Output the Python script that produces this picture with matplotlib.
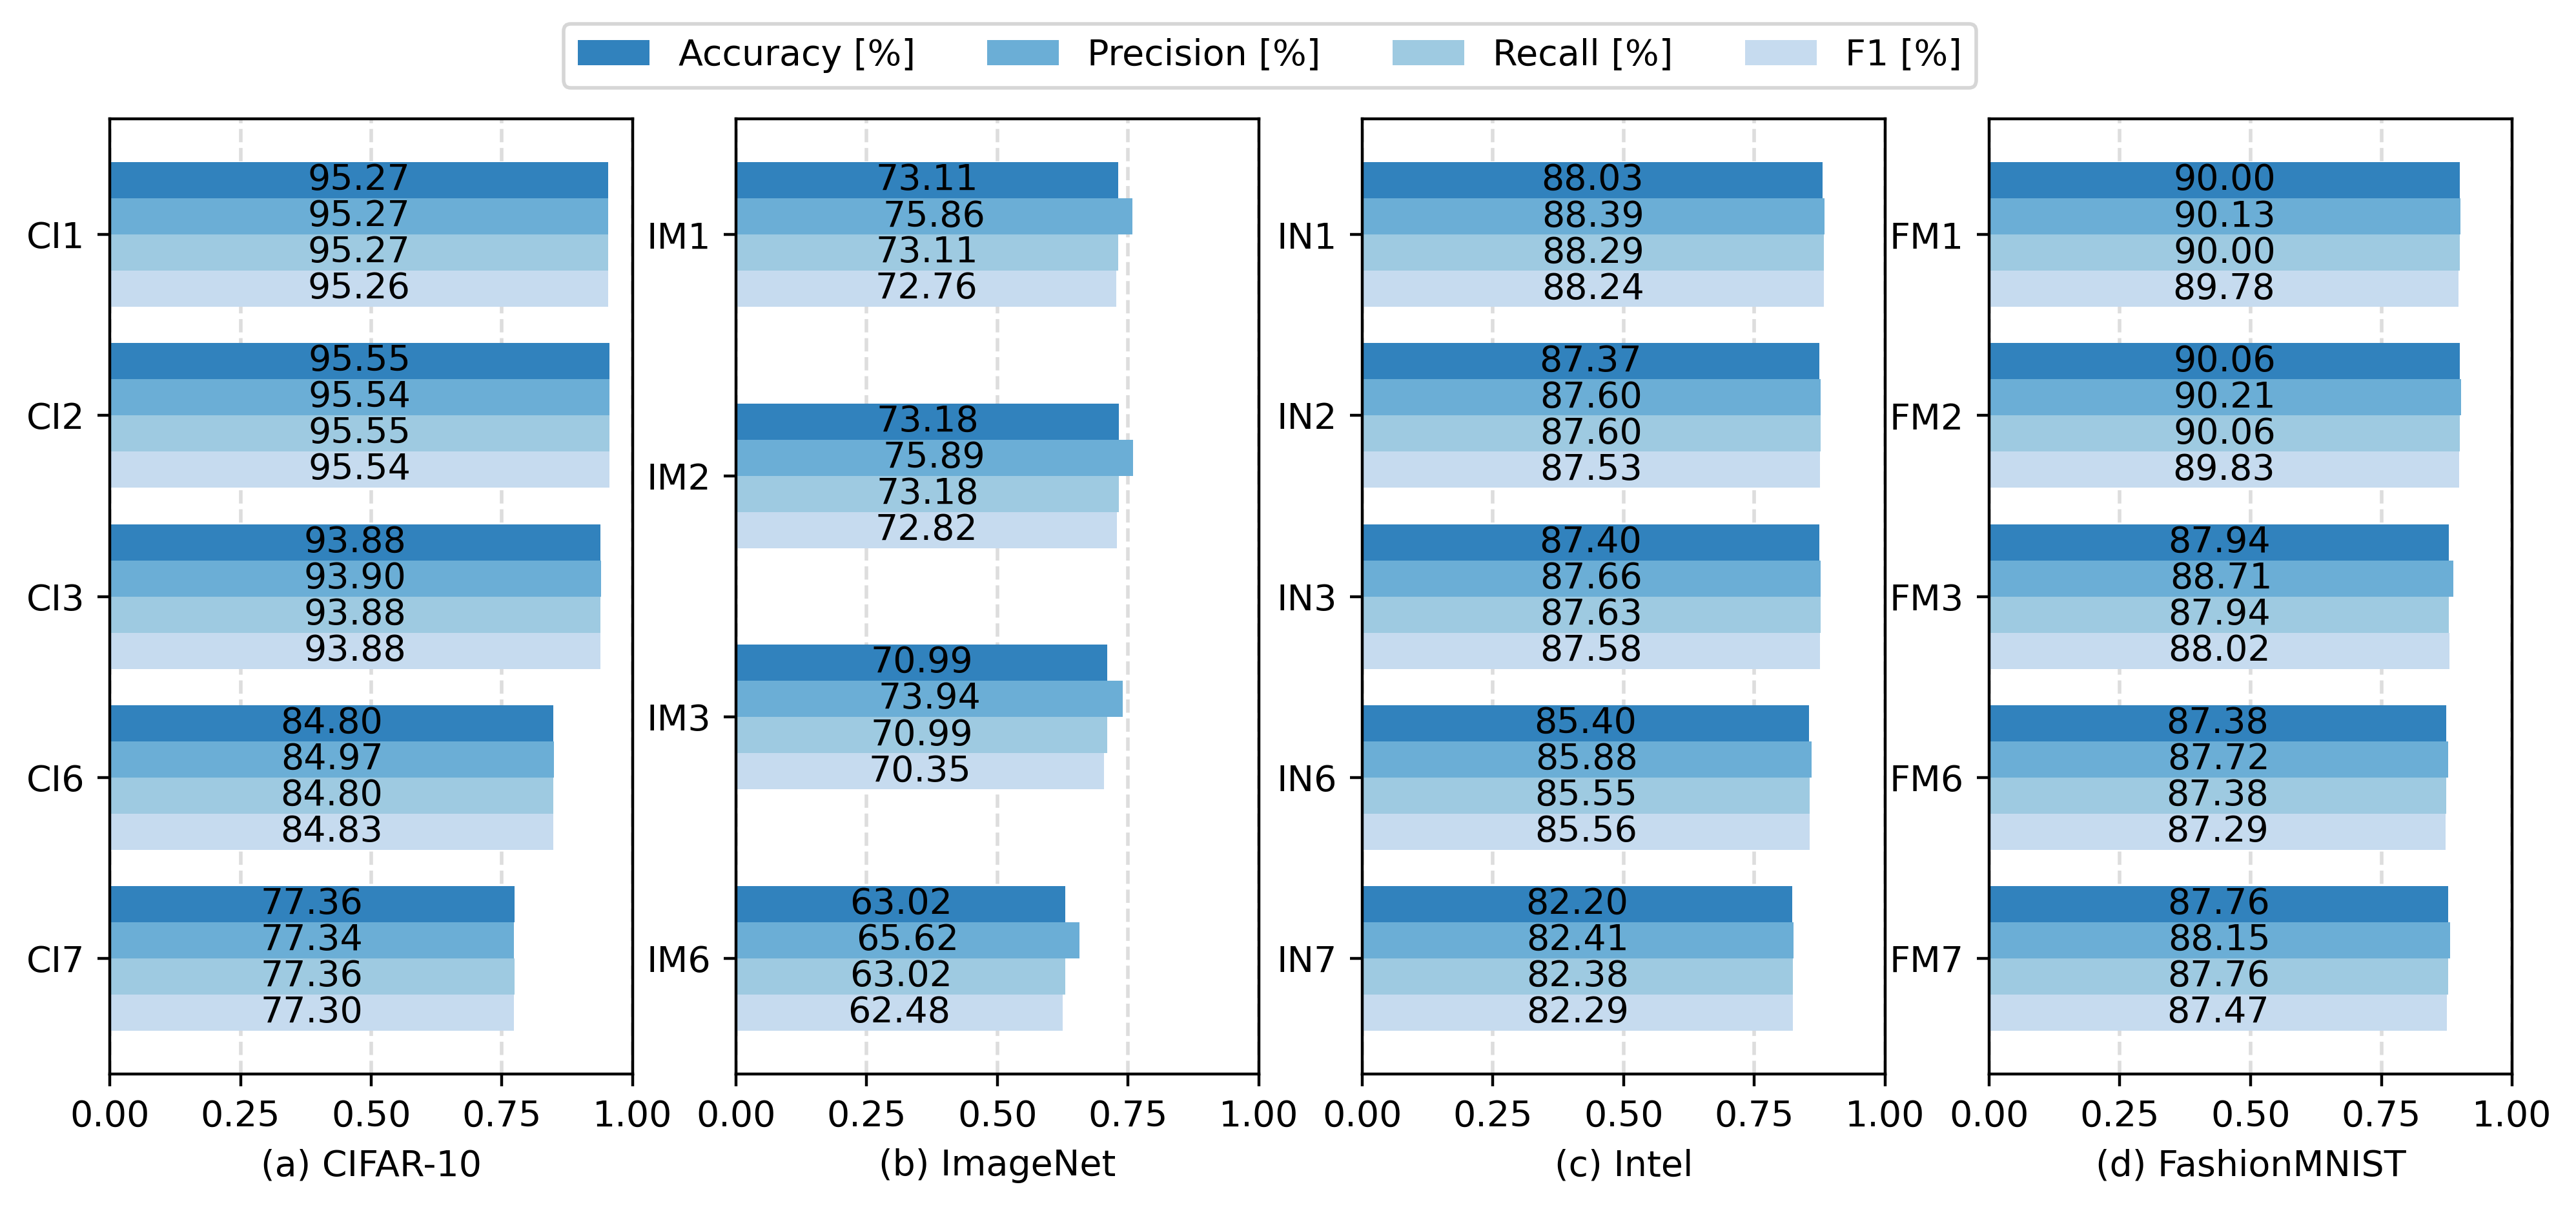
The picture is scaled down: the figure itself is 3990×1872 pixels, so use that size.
import numpy as np
import matplotlib
matplotlib.use("Agg")
import matplotlib.pyplot as plt

# metric names and colours
metrics = ["Accuracy [%]", "Precision [%]", "Recall [%]", "F1 [%]"]
colors = ["#3182bd", "#6baed6", "#9ecae1", "#c6dbef"]

# (a) CIFAR-10
ci_labels = ["CI1", "CI2", "CI3", "CI6", "CI7"]
ci_acc = [95.27, 95.55, 93.88, 84.80, 77.36]
ci_prec = [95.27, 95.54, 93.90, 84.97, 77.34]
ci_rec = [95.27, 95.55, 93.88, 84.80, 77.36]
ci_f1 = [95.26, 95.54, 93.88, 84.83, 77.30]

# (b) ImageNet
im_labels = ["IM1", "IM2", "IM3", "IM6"]
im_acc = [73.11, 73.18, 70.99, 63.02]
im_prec = [75.86, 75.89, 73.94, 65.62]
im_rec = [73.11, 73.18, 70.99, 63.02]
im_f1 = [72.76, 72.82, 70.35, 62.48]

# (c) Intel
in_labels = ["IN1", "IN2", "IN3", "IN6", "IN7"]
in_acc = [88.03, 87.37, 87.40, 85.40, 82.20]
in_prec = [88.39, 87.60, 87.66, 85.88, 82.41]
in_rec = [88.29, 87.60, 87.63, 85.55, 82.38]
in_f1 = [88.24, 87.53, 87.58, 85.56, 82.29]

# (d) FashionMNIST
fm_labels = ["FM1", "FM2", "FM3", "FM6", "FM7"]
fm_acc = [90.00, 90.06, 87.94, 87.38, 87.76]
fm_prec = [90.13, 90.21, 88.71, 87.72, 88.15]
fm_rec = [90.00, 90.06, 87.94, 87.38, 87.76]
fm_f1 = [89.78, 89.83, 88.02, 87.29, 87.47]

panels = [
    ("(a) CIFAR-10", ci_labels, [ci_acc, ci_prec, ci_rec, ci_f1]),
    ("(b) ImageNet", im_labels, [im_acc, im_prec, im_rec, im_f1]),
    ("(c) Intel", in_labels, [in_acc, in_prec, in_rec, in_f1]),
    ("(d) FashionMNIST", fm_labels, [fm_acc, fm_prec, fm_rec, fm_f1]),
]

dpi = 400
fig = plt.figure(figsize=(3991 / dpi, 1872 / dpi), dpi=dpi)

lefts = [170, 1140, 2110, 3081]
bar_h = 0.2
handles = []
for k, (title, labels, series) in enumerate(panels):
    ax = fig.add_axes([lefts[k] / 3991, 0.1116, 810 / 3991, 0.7901])
    y = np.linspace(0, 4, len(labels))
    for i, vals in enumerate(series):
        widths = np.array(vals) / 100.0
        bars = ax.barh(y + (i - 1.5) * bar_h, widths, height=bar_h,
                       color=colors[i], label=metrics[i])
        ax.bar_label(bars, labels=["%.2f" % v for v in vals],
                     label_type="center", fontsize=10)
        if k == 0:
            handles.append(bars)
    ax.set_yticks(y)
    ax.set_yticklabels(labels)
    ax.invert_yaxis()
    ax.set_xlim(0, 1)
    ax.set_xticks([0, 0.25, 0.5, 0.75, 1.0])
    ax.grid(axis="x", linestyle="--", color="#dddddd", linewidth=1.0)
    ax.set_axisbelow(True)
    ax.set_xlabel(title)

fig.legend(handles=handles, labels=metrics, loc="upper center",
           bbox_to_anchor=(0.4929, 0.995), ncol=4, fontsize=10)

fig.savefig("out.png", dpi=dpi)
